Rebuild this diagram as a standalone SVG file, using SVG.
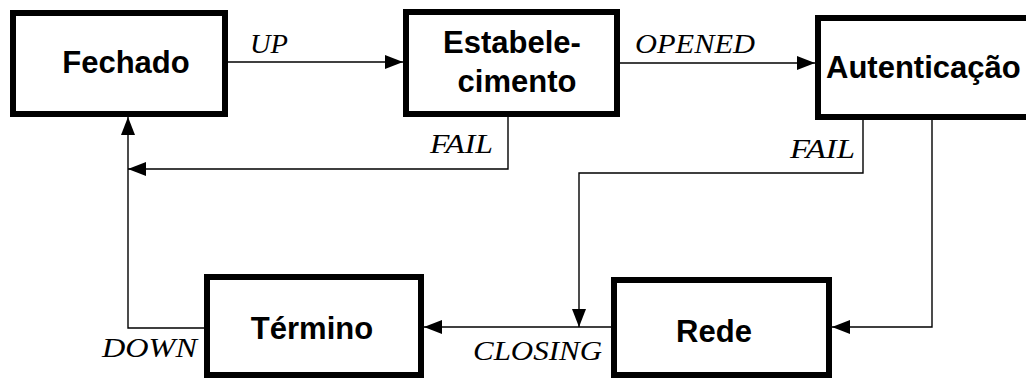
<svg xmlns="http://www.w3.org/2000/svg" width="1026" height="379" viewBox="0 0 1026 379">
<style>
.box{fill:#fff;stroke:#000;stroke-width:6}
.nt{font-family:"Liberation Sans",Arial,sans-serif;font-weight:bold;font-size:31px;fill:#000;text-anchor:middle}
.lb{font-family:"Liberation Serif","Times New Roman",serif;font-style:italic;font-size:27px;fill:#000}
.cn{fill:none;stroke:#000;stroke-width:1.4}
</style>
<defs>
<marker id="ah" markerUnits="userSpaceOnUse" markerWidth="18" markerHeight="14" refX="18" refY="7" orient="auto">
<path d="M0,0 L18,7 L0,14 z" fill="#000"/>
</marker>
</defs>
<rect width="1026" height="379" fill="#fff"/>
<g id="connectors">
<path class="cn" d="M228,62 H403" marker-end="url(#ah)"/>
<path class="cn" d="M620,63 H815" marker-end="url(#ah)"/>
<path class="cn" d="M508,117 V169 H128" marker-end="url(#ah)"/>
<path class="cn" d="M204,328 H128 V117" marker-end="url(#ah)"/>
<path class="cn" d="M863,120 V173 H579 V327" marker-end="url(#ah)"/>
<path class="cn" d="M611,327 H424" marker-end="url(#ah)"/>
<path class="cn" d="M932,120 V327 H832" marker-end="url(#ah)"/>
<text class="lb" x="250" y="53" textLength="38" lengthAdjust="spacingAndGlyphs">UP</text>
<text class="lb" x="635" y="53" textLength="120" lengthAdjust="spacingAndGlyphs">OPENED</text>
<text class="lb" x="430" y="153" textLength="63" lengthAdjust="spacingAndGlyphs">FAIL</text>
<text class="lb" x="790" y="158" textLength="65" lengthAdjust="spacingAndGlyphs">FAIL</text>
<text class="lb" x="102" y="357" textLength="95" lengthAdjust="spacingAndGlyphs">DOWN</text>
<text class="lb" x="473" y="360" textLength="129" lengthAdjust="spacingAndGlyphs">CLOSING</text>
</g>
<g id="fechado">
<rect class="box" x="13" y="13" width="212" height="101"/>
<text class="nt" x="126" y="73">Fechado</text>
</g>
<g id="estabelecimento">
<rect class="box" x="406" y="12" width="211" height="102"/>
<text class="nt" x="512" y="53">Estabele-</text>
<text class="nt" x="517" y="92">cimento</text>
</g>
<g id="autenticacao">
<rect class="box" x="818" y="18" width="230" height="99"/>
<text class="nt" x="826" y="78" style="text-anchor:start">Autenticação</text>
</g>
<g id="termino">
<rect class="box" x="207" y="277" width="214" height="98"/>
<text class="nt" x="312" y="339">Término</text>
</g>
<g id="rede">
<rect class="box" x="614" y="280" width="215" height="95"/>
<text class="nt" x="714" y="342">Rede</text>
</g>
</svg>
